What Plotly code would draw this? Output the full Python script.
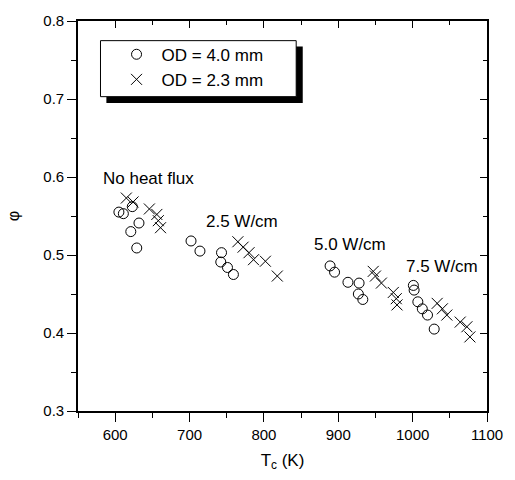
import plotly.graph_objects as go

# OD = 4.0 mm (open circles)
od40_T = [605, 611, 623, 632, 621, 629,
          702, 714, 743, 742, 751, 759,
          889, 895, 913, 928, 927, 933,
          1001, 1002, 1007, 1013, 1020, 1029]
od40_phi = [0.555, 0.553, 0.562, 0.541, 0.530, 0.509,
            0.518, 0.505, 0.503, 0.491, 0.484, 0.475,
            0.486, 0.478, 0.465, 0.464, 0.450, 0.443,
            0.461, 0.455, 0.440, 0.431, 0.423, 0.405]

# OD = 2.3 mm (crosses)
od23_T = [615, 624, 646, 656, 658, 661,
          765, 772, 780, 786, 802, 818,
          947, 950, 958, 974, 978, 979,
          1033, 1040, 1046, 1064, 1073, 1077]
od23_phi = [0.573, 0.568, 0.559, 0.552, 0.544, 0.535,
            0.517, 0.510, 0.503, 0.494, 0.492, 0.473,
            0.479, 0.473, 0.464, 0.452, 0.444, 0.436,
            0.438, 0.431, 0.423, 0.414, 0.408, 0.395]

label_text = ["No heat flux", "2.5 W/cm", "5.0 W/cm", "7.5 W/cm"]
label_T = [581, 720, 865, 989]
label_phi = [0.598, 0.543, 0.513, 0.485]

x_ticks = [600, 700, 800, 900, 1000, 1100]
y_ticks = [0.3, 0.4, 0.5, 0.6, 0.7, 0.8]

FONT = "Liberation Sans, Arial, sans-serif"

fig = go.Figure()
fig.add_trace(go.Scatter(
    x=od40_T, y=od40_phi, mode="markers", name="OD = 4.0 mm",
    marker=dict(symbol="circle-open", size=10, color="black", line=dict(width=1, color="black"))))
fig.add_trace(go.Scatter(
    x=od23_T, y=od23_phi, mode="markers", name="OD = 2.3 mm",
    marker=dict(symbol="x-thin-open", size=11, color="black", line=dict(width=1, color="black"))))
# invisible trace to activate top/right axes
fig.add_trace(go.Scatter(x=[x_ticks[0]], y=[y_ticks[0]], xaxis="x2", yaxis="y2",
                         mode="markers", marker=dict(opacity=0), showlegend=False, hoverinfo="skip"))

for t, xx, yy in zip(label_text, label_T, label_phi):
    fig.add_annotation(x=xx, y=yy, text=t, showarrow=False, xanchor="left", yanchor="middle",
                       font=dict(family=FONT, size=17, color="black"))

axis_common = dict(showgrid=False, zeroline=False, showline=True, linecolor="black", linewidth=1.6)

fig.update_layout(
    width=515, height=480,
    margin=dict(l=78, r=19, t=14, b=69),
    paper_bgcolor="white", plot_bgcolor="white",
    font=dict(family=FONT, size=15, color="black"),
    xaxis=dict(range=[550, 1100], tickvals=x_ticks, ticks="outside", ticklen=9, tickwidth=1.3,
               tickcolor="black",
               minor=dict(tickvals=[550, 650, 750, 850, 950, 1050], ticks="outside", ticklen=5,
                          tickwidth=1.3, tickcolor="black"),
               title=dict(text="T<sub>c</sub> (K)", font=dict(size=17), standoff=12),
               tickfont=dict(size=15), **axis_common),
    yaxis=dict(range=[0.3, 0.8], tickvals=y_ticks, ticktext=[f"{v:.1f}" for v in y_ticks],
               ticks="outside", ticklen=9, tickwidth=1.3, tickcolor="black",
               minor=dict(tickvals=[0.35, 0.45, 0.55, 0.65, 0.75], ticks="outside", ticklen=5,
                          tickwidth=1.3, tickcolor="black"),
               title=dict(text="φ", font=dict(size=16), standoff=20),
               tickfont=dict(size=15), **axis_common),
    xaxis2=dict(overlaying="x", side="top", range=[550, 1100], tickvals=x_ticks, ticks="inside",
                ticklen=7, tickwidth=1.3, tickcolor="black", showticklabels=False,
                minor=dict(tickvals=[550, 650, 750, 850, 950, 1050], ticks="inside", ticklen=4,
                           tickwidth=1.3, tickcolor="black"),
                **axis_common),
    yaxis2=dict(overlaying="y", side="right", range=[0.3, 0.8], tickvals=y_ticks, ticks="inside",
                ticklen=7, tickwidth=1.3, tickcolor="black", showticklabels=False,
                minor=dict(tickvals=[0.35, 0.45, 0.55, 0.65, 0.75], ticks="inside", ticklen=4,
                           tickwidth=1.3, tickcolor="black"),
                **axis_common),
    legend=dict(x=0.082, y=0.9597, xanchor="left", yanchor="top", bgcolor="rgba(0,0,0,0)",
                borderwidth=0, font=dict(size=17), itemwidth=40, tracegroupgap=0),
    shapes=[
        # legend drop shadow
        dict(type="rect", xref="paper", yref="paper", x0=0.0694, x1=0.5495, y0=0.790, y1=0.9345,
             fillcolor="black", line=dict(width=0), layer="below"),
        # legend frame
        dict(type="rect", xref="paper", yref="paper", x0=0.055, x1=0.5335, y0=0.8060, y1=0.9496,
             fillcolor="white", line=dict(width=1, color="black"), layer="below"),
    ],
    showlegend=True,
)

fig.write_html("out.html")
